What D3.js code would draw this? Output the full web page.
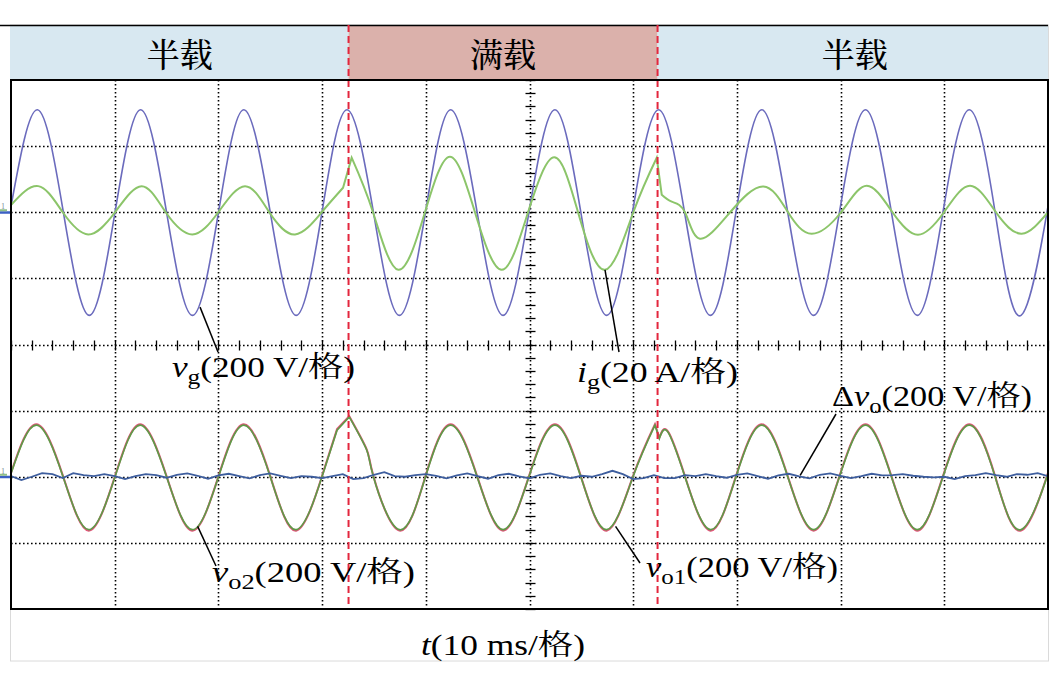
<!DOCTYPE html>
<html>
<head>
<meta charset="utf-8">
<script src="https://cdn.jsdelivr.net/npm/d3@7/dist/d3.min.js"></script>
<style>
  html, body { margin: 0; padding: 0; background: #ffffff; }
  svg { display: block; }
  text { font-family: "Liberation Serif", "Times New Roman", "Noto Serif CJK SC", "Noto Sans CJK SC", serif; fill: #000; }
</style>
</head>
<body>
<svg id="chart" width="1050" height="689"></svg>
<script>
// ---------------- DATA ----------------
// time axis: ms, 10 ms per division, 10 divisions
const timeDomain = [0, 100];
const divDomain = [-4, 4];

// load periods shown in the top band
const loadNames = ["半载", "满载", "半载"];
const loadStarts = [0, 32.55, 62.35];
const loadEnds = [32.55, 62.35, 100];
const stepTimes = [32.55, 62.35];

// channel settings: units per division and offset (divisions)
const vgScale = 200, vgOffset = 2;   // V/div
const igScale = 20,  igOffset = 2;   // A/div
const voScale = 200, voOffset = -2;  // V/div

// grid voltage v_g [t(ms), V]
const vgT = [0, 2.55, 5.05, 7.55, 10.03, 12.5, 15.0, 17.5, 20.01, 22.45, 25.0, 27.5, 29.99, 32.4, 34.95, 37.45,
  39.97, 42.4, 44.95, 47.45, 49.95, 52.45, 54.95, 57.45, 59.93, 62.45, 64.95, 67.45, 69.91, 72.4, 74.9, 77.4,
  79.89, 82.4, 84.9, 87.4, 89.87, 92.4, 94.9, 97.4, 99.9, 100];
const vgV = [18, 310, 0, -312, 0, 310, 0, -312, 0, 310, 0, -312, 0, 310, 0, -312,
  0, 310, 0, -312, 0, 310, 0, -312, 0, 310, 0, -312, 0, 310, 0, -312,
  0, 310, 0, -312, 0, 310, 0, -312, 0, 3];

// grid current i_g [t(ms), A]; breaks = indices after which the trace jumps
const igT = [0, 2.63, 4.99, 7.45, 10.03, 12.6, 14.92, 17.48, 19.99, 22.57, 24.91, 27.39, 29.96, 32.02, 32.85,
  34.91, 37.35, 39.92, 42.33, 44.74, 47.32, 49.86, 52.39, 54.68, 57.28, 60.01, 62.27, 62.75, 63.71, 64.99,
  66.44, 69.35, 72.55, 74.93, 77.21, 80.04, 82.52, 85.0, 87.46, 89.97, 92.48, 94.98, 97.46, 100];
const igV = [2.2, 7.9, 0, -6.7, 0, 7.9, 0, -6.7, 0, 7.9, 0, -6.7, 0, 7.4, 16.5,
  0, -17.4, 0, 16.8, 0, -17.4, 0, 16.6, 0, -17.4, 0, 16.5, 5.3, 3.2, 0,
  -8.0, 0, 7.8, 0, -6.5, 0, 8.0, 0, -6.8, 0, 8.0, 0, -6.5, 0];
const igBreaks = [13, 26];

// output voltages v_o2 (green) and v_o1 (red) [t(ms), V]
const voT = [0, 2.45, 5.02, 7.5, 10.03, 12.45, 15.0, 17.5, 20.01, 22.45, 25.0, 27.5, 29.99, 31.44, 32.62, 34.3,
  34.95, 37.45, 39.97, 42.4, 44.95, 47.45, 49.95, 52.45, 54.95, 57.45, 59.98, 62.1, 62.52, 63.33, 64.99,
  67.45, 69.91, 72.4, 74.9, 77.4, 79.89, 82.4, 84.9, 87.4, 89.87, 92.4, 94.9, 97.4, 99.9, 100];
const vo2V = [10, 156, 0, -160, 0, 156, 0, -160, 0, 156, 0, -160, 0, 141, 181, 81,
  0, -160, 0, 156, 0, -160, 0, 156, 0, -160, 0, 156, 116, 136, 0,
  -160, 0, 156, 0, -160, 0, 156, 0, -160, 0, 156, 0, -160, 0, 2];
const vo1V = [12, 159, 2, -163, 2, 159, 2, -163, 2, 159, 2, -163, 2, 144, 183, 83,
  2, -163, 2, 159, 2, -163, 2, 159, 2, -163, 2, 159, 118, 138, 2,
  -163, 2, 159, 2, -163, 2, 159, 2, -163, 2, 159, 2, -163, 2, 4];
const voBreaks = [13, 27];

// voltage difference Δv_o, one sample per ms [V]
const dvoV = [2, -10, 0, 11, 8, -4, 11, 5, 2, 8, 2, -7, 2, 8,
  5, -3, 6, 10, 3, -6, 4, 9, 2, -5, 5, 10, 3, -4,
  2, 0, -4, 2, 8, -7, -4, 6, 14, 2, 0, 5, 8,
  3, -5, 4, 10, 2, -6, 5, 9, 1, -5, 6, 10, 2, -4, 3, 0,
  8, 18, 8, -7, -4, 5, -4, -4, 5, 2, 8, 2,
  -3, 6, 10, 2, -6, 4, 9, 1, -5, 6, 10, 3, -4, 2, 9, 4, 5,
  8, 3, 0, -2, 0, -7, 2, 5, 11, 5, 0, 8, 6, 11, 2];

// annotation texts: [prefix, italic symbol, subscript, rest]
const labelVg = ["", "v", "g", "(200 V/格)"];
const labelIg = ["", "i", "g", "(20 A/格)"];
const labelDvo = ["Δ", "v", "o", "(200 V/格)"];
const labelVo2 = ["", "v", "o2", "(200 V/格)"];
const labelVo1 = ["", "v", "o1", "(200 V/格)"];
const labelT = ["", "t", "", "(10 ms/格)"];

// ---------------- DRAWING ----------------
const svg = d3.select("#chart");
const L = 11, R = 1048, T = 80, B = 609, bandTop = 25;

const x = d3.scaleLinear().domain(timeDomain).range([L, R]);
const y = d3.scaleLinear().domain(divDomain).range([B, T]);

// outer faint frame
svg.append("rect").attr("x", 10.5).attr("y", bandTop).attr("width", R - 10).attr("height", 636)
  .attr("fill", "none").attr("stroke", "#dadada").attr("stroke-width", 1);

// top band
const bandColors = ["#d8e8f1", "#dbb1ab", "#d8e8f1"];
svg.selectAll("rect.band").data(loadNames).enter().append("rect")
  .attr("class", "band")
  .attr("x", (d, i) => i === 0 ? 10 : x(loadStarts[i]))
  .attr("y", bandTop)
  .attr("width", (d, i) => x(loadEnds[i]) - (i === 0 ? 10 : x(loadStarts[i])))
  .attr("height", T - bandTop)
  .attr("fill", (d, i) => bandColors[i]);
svg.append("line").attr("x1", 0).attr("x2", R).attr("y1", bandTop + 0.5).attr("y2", bandTop + 0.5)
  .attr("stroke", "#000").attr("stroke-width", 1.5);
svg.selectAll("text.band").data(loadNames).enter().append("text")
  .attr("class", "band")
  .attr("x", (d, i) => (x(loadStarts[i]) + x(loadEnds[i])) / 2 + (i === 2 ? 2 : 0))
  .attr("y", 67)
  .attr("text-anchor", "middle")
  .attr("font-size", 33)
  .style("font-family", '"Noto Serif CJK SC", "Noto Sans CJK SC", serif')
  .style("font-weight", 500)
  .text(d => d);

// grid (dotted)
const gridX = d3.range(10, 100, 10);
const gridY = d3.range(-3, 4, 1);
const grid = svg.append("g").attr("stroke", "#000").attr("stroke-width", 1.6).attr("stroke-dasharray", "1.6,2.4");
grid.selectAll("line.gx").data(gridX).enter().append("line")
  .attr("x1", d => Math.round(x(d)) + 0.5).attr("x2", d => Math.round(x(d)) + 0.5)
  .attr("y1", T).attr("y2", B);
grid.selectAll("line.gy").data(gridY).enter().append("line")
  .attr("x1", L).attr("x2", R)
  .attr("y1", d => Math.round(y(d)) + 0.5).attr("y2", d => Math.round(y(d)) + 0.5);

// center axis ticks
const cx = Math.round(x(50)) + 0.5, cy = Math.round(y(0)) + 0.5;
const tickG = svg.append("g").attr("stroke", "#000").attr("stroke-width", 1.3);
const hTicks = d3.range(0, 100.01, 2);
tickG.selectAll("line.ht").data(hTicks).enter().append("line")
  .attr("x1", d => Math.round(x(d)) + 0.5).attr("x2", d => Math.round(x(d)) + 0.5)
  .attr("y1", cy - 5).attr("y2", cy + 5);
const vTicks = d3.range(-4, 4.01, 0.2);
tickG.selectAll("line.vt").data(vTicks).enter().append("line")
  .attr("x1", cx - 5).attr("x2", cx + 5)
  .attr("y1", d => Math.round(y(d)) + 0.5).attr("y2", d => Math.round(y(d)) + 0.5);

// channel ground markers on left
[[vgOffset, "#3b5fc4"], [voOffset, "#3b5fc4"]].forEach(([off, c]) => {
  svg.append("rect").attr("x", 0).attr("y", y(off) - 1).attr("width", L).attr("height", 2.5).attr("fill", c);
  svg.append("rect").attr("x", 0).attr("y", y(off) - 3).attr("width", 7).attr("height", 2).attr("fill", "#8fbf86");
  svg.append("text").attr("x", 1).attr("y", y(off) - 3).attr("font-size", 8).style("fill", "#7a8a99").text("1");
});

// traces
svg.append("clipPath").attr("id", "clip").append("rect")
  .attr("x", L).attr("y", T).attr("width", R - L).attr("height", B - T);
const traces = svg.append("g").attr("clip-path", "url(#clip)");

function series(ts, vs, scale, off) {
  return ts.map((t, i) => [x(t), y(vs[i] / scale + off)]);
}
const smooth = d3.line().curve(d3.curveNatural);
const jagged = d3.line().curve(d3.curveLinear);
// smooth pieces joined by straight jumps at the break indices
function piecewise(pts, breaks) {
  const cuts = [0, ...breaks.map(b => b + 1), pts.length];
  let d = "";
  for (let k = 0; k < cuts.length - 1; k++) {
    const seg = pts.slice(cuts[k], cuts[k + 1]);
    const p = seg.length > 1 ? smooth(seg) : "M" + seg[0].join(",");
    d += k === 0 ? p : "L" + p.slice(1);
  }
  return d;
}

traces.append("path").attr("d", smooth(series(vgT, vgV, vgScale, vgOffset)))
  .attr("fill", "none").attr("stroke", "#6b6bbd").attr("stroke-width", 1.6);
traces.append("path").attr("d", piecewise(series(igT, igV, igScale, igOffset), igBreaks))
  .attr("fill", "none").attr("stroke", "#8cc56a").attr("stroke-width", 2);
traces.append("path").attr("d", piecewise(series(voT, vo1V, voScale, voOffset), voBreaks))
  .attr("fill", "none").attr("stroke", "#e2557a").attr("stroke-width", 2);
traces.append("path").attr("d", piecewise(series(voT, vo2V, voScale, voOffset), voBreaks))
  .attr("fill", "none").attr("stroke", "#5f9a48").attr("stroke-width", 1.7);
const dvoT = dvoV.map((v, i) => i);
traces.append("path").attr("d", jagged(series(dvoT, dvoV, voScale, voOffset)))
  .attr("fill", "none").attr("stroke", "#3e5e9e").attr("stroke-width", 1.8);

// step markers (red dashed)
svg.selectAll("line.step").data(stepTimes).enter().append("line")
  .attr("x1", d => x(d)).attr("x2", d => x(d))
  .attr("y1", bandTop).attr("y2", B)
  .attr("stroke", "#e3263d").attr("stroke-width", 2).attr("stroke-dasharray", "7,4");

// plot frame
svg.append("rect").attr("x", L).attr("y", T).attr("width", R - L).attr("height", B - T)
  .attr("fill", "none").attr("stroke", "#000").attr("stroke-width", 2);

// annotations
function addLabel(parts, px, py, width) {
  const t = svg.append("text").attr("x", px).attr("y", py).attr("font-size", 29)
    .attr("textLength", width).attr("lengthAdjust", "spacingAndGlyphs");
  if (parts[0]) t.append("tspan").text(parts[0]);
  t.append("tspan").attr("font-style", "italic").text(parts[1]);
  if (parts[2]) t.append("tspan").attr("font-size", 21).attr("dy", 7).text(parts[2]);
  t.append("tspan").attr("dy", parts[2] ? -7 : 0).text(parts[3]);
}
function leader(x1, y1, x2, y2) {
  svg.append("line").attr("x1", x1).attr("y1", y1).attr("x2", x2).attr("y2", y2)
    .attr("stroke", "#000").attr("stroke-width", 1.5);
}
leader(x(18.23), y(-287 / vgScale + vgOffset), 218, 352);
addLabel(labelVg, 172, 377, 183);
leader(x(57.28), y(-17.4 / igScale + igOffset), 619, 352);
addLabel(labelIg, 577, 382, 161);
leader(x(76.1), y(4 / voScale + voOffset), 836, 414);
addLabel(labelDvo, 832, 406, 200);
leader(x(18.0), y(-150 / voScale + voOffset), 216, 566);
addLabel(labelVo2, 212, 582, 203);
leader(x(58.3), y(-150 / voScale + voOffset), 640, 563);
addLabel(labelVo1, 646, 577, 192);
addLabel(labelT, 421, 655, 164);
</script>
</body>
</html>
